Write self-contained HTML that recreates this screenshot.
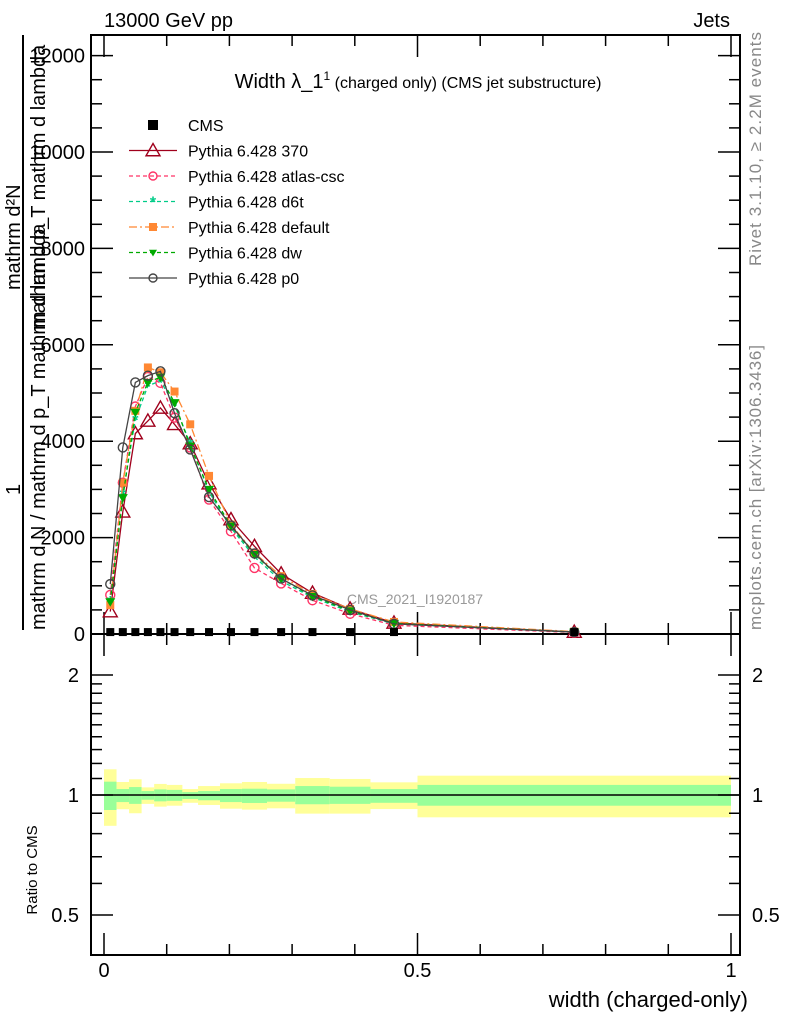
<!DOCTYPE html>
<html><head><meta charset="utf-8"><style>
body{margin:0;background:#fff}
svg{display:block;font-family:"Liberation Sans",sans-serif}
</style></head><body>
<svg id="c" width="786" height="1024" viewBox="0 0 786 1024">
<text x="104" y="27" font-size="20">13000 GeV pp</text>
<text x="730" y="27" font-size="20" text-anchor="end">Jets</text>
<text x="418" y="88" font-size="20" text-anchor="middle">Width λ_1<tspan font-size="12" dy="-8">1</tspan><tspan font-size="16" dy="8"> (charged only) (CMS jet substructure)</tspan></text>
<g font-size="20">
<text transform="translate(20,290) rotate(-90)">mathrm d²N</text>
<line x1="23" y1="35" x2="23" y2="630" stroke="#000" stroke-width="2"/>
<text transform="translate(45,330) rotate(-90)">mathrm d p_T mathrm d lambda</text>
<text transform="translate(20,495) rotate(-90)">1</text>
<text transform="translate(45,630) rotate(-90)">mathrm d N / mathrm d p_T mathrm d lambda</text>
</g>
<text transform="translate(761,266) rotate(-90)" font-size="17" fill="#888" textLength="234">Rivet 3.1.10, ≥ 2.2M events</text>
<text transform="translate(761,630) rotate(-90)" font-size="17" fill="#888" textLength="285">mcplots.cern.ch [arXiv:1306.3436]</text>
<text x="415" y="604" font-size="14" fill="#999" text-anchor="middle">CMS_2021_I1920187</text>
<text transform="translate(37,870) rotate(-90)" font-size="15" text-anchor="middle">Ratio to CMS</text>
<text x="748" y="1007" font-size="22" text-anchor="end">width (charged-only)</text>
<g id="g"></g>
</svg>
<script>
const binEdges=[0,0.02,0.04,0.06,0.08,0.1,0.125,0.15,0.185,0.22,0.26,0.305,0.36,0.425,0.5,1.0];
const cmsVals=[40,40,40,40,40,40,40,40,40,40,40,40,40,40,40];
const s370=[465,2535,4160,4420,4690,4350,3950,3120,2375,1820,1250,850,520,230,40];
const sAtlas=[810,3140,4720,5330,5210,4490,3870,2790,2130,1370,1050,700,420,180,30];
const sD6t=[680,2900,4450,5150,5250,4750,3950,2950,2200,1600,1100,760,460,210,40];
const sDefault=[600,3140,4630,5530,5430,5030,4350,3280,2270,1680,1200,830,520,250,50];
const sDw=[670,2830,4600,5220,5330,4800,3900,3000,2240,1650,1150,780,480,220,40];
const sP0=[1035,3870,5220,5360,5450,4580,3830,2840,2250,1670,1150,800,500,210,40];
const totUp=[1.16,1.078,1.095,1.045,1.066,1.06,1.035,1.053,1.07,1.078,1.067,1.103,1.097,1.076,1.118];
const totDn=[0.837,0.921,0.90,0.95,0.935,0.94,0.956,0.944,0.924,0.919,0.926,0.898,0.898,0.922,0.879];
const statUp=[1.08,1.035,1.047,1.023,1.033,1.03,1.017,1.023,1.035,1.037,1.033,1.053,1.049,1.035,1.06];
const statDn=[0.917,0.96,0.95,0.973,0.964,0.967,0.977,0.97,0.96,0.955,0.962,0.948,0.95,0.956,0.94];
const yTicks=[0,2000,4000,6000,8000,10000,12000];
const rTicks=[0.5,1,2];
const xTicks=[0,0.5,1];

const NS="http://www.w3.org/2000/svg";
const g=document.getElementById('g');
const L=91,R=740,T=35,MB=634,RB=955;
const X=v=>104+v*627;
const Y=v=>634-v*0.0482;
const RY=r=>795-Math.log(r)/Math.LN2*120;
function mk(t,a,p){const e=document.createElementNS(NS,t);for(const k in a)e.setAttribute(k,a[k]);(p||g).appendChild(e);return e;}
const mids=binEdges.slice(0,-1).map((e,i)=>(e+binEdges[i+1])/2);

for(let i=0;i<mids.length;i++){
  const x0=X(binEdges[i]),x1=X(binEdges[i+1]);
  let r=mk('rect',{x:x0,y:RY(totUp[i]),width:x1-x0,height:RY(totDn[i])-RY(totUp[i]),fill:'#ffff99'});
  
  
  r=mk('rect',{x:x0,y:RY(statUp[i]),width:x1-x0,height:RY(statDn[i])-RY(statUp[i]),fill:'#99ff99'});
  
  
}
mk('line',{x1:L,x2:R,y1:RY(1),y2:RY(1),stroke:'#000','stroke-width':1.5});

let f=mk('rect',{x:L,y:T,width:R-L,height:MB-T,fill:'none',stroke:'#000','stroke-width':2});


f=mk('rect',{x:L,y:MB,width:R-L,height:RB-MB,fill:'none',stroke:'#000','stroke-width':2});



for(let v=0;v<=12500;v+=500){const y=Y(v);if(y<T)break;const len=v%2000===0?22:11;
  mk('line',{x1:L,x2:L+len,y1:y,y2:y,stroke:'#000','stroke-width':1.5});
  mk('line',{x1:R,x2:R-len,y1:y,y2:y,stroke:'#000','stroke-width':1.5});}
yTicks.forEach(v=>{const t=mk('text',{x:L-6,y:Y(v)+7,'font-size':20,'text-anchor':'end'});t.textContent=v;
  
  });
[0.5,0.6,0.7,0.8,0.9,1,1.1,1.2,1.3,1.4,1.5,1.6,1.7,1.8,1.9,2].forEach(r=>{const y=RY(r);if(y<MB)return;const len=(r===0.5||r===1||r===2)?22:11;
  mk('line',{x1:L,x2:L+len,y1:y,y2:y,stroke:'#000','stroke-width':1.5});
  mk('line',{x1:R,x2:R-len,y1:y,y2:y,stroke:'#000','stroke-width':1.5});});
rTicks.forEach(r=>{let t=mk('text',{x:L-12,y:RY(r)+7,'font-size':20,'text-anchor':'end'});t.textContent=r;
  
  
  t=mk('text',{x:R+12,y:RY(r)+7,'font-size':20});t.textContent=r;
  
  });
for(let v=0;v<=1.0001;v+=0.1){const x=X(v);const len=Math.abs(v*2-Math.round(v*2))<1e-6?22:11;
  [[MB,-1],[MB,1],[RB,-1],[T,1]].forEach(([y0,d])=>mk('line',{x1:x,x2:x,y1:y0,y2:y0+d*len,stroke:'#000','stroke-width':1.5}));}
xTicks.forEach(v=>{const t=mk('text',{x:X(v),y:977,'font-size':20,'text-anchor':'middle'});t.textContent=v;
  
  });

function marker(type,x,y,c,sz){
  if(type==='tri')return mk('path',{d:`M${x},${y-sz} L${x+sz},${y+sz*0.75} L${x-sz},${y+sz*0.75}Z`,fill:'none',stroke:c,'stroke-width':1.4});
  if(type==='circ')return mk('circle',{cx:x,cy:y,r:sz,fill:'none',stroke:c,'stroke-width':1.4});
  if(type==='sq')return mk('rect',{x:x-sz,y:y-sz,width:2*sz,height:2*sz,fill:c});
  if(type==='dtri')return mk('path',{d:`M${x-sz},${y-sz*0.7} L${x+sz},${y-sz*0.7} L${x},${y+sz}Z`,fill:c});
  if(type==='star')return mk('text',{x:x,y:y+6,'font-size':16,'text-anchor':'middle',fill:c,'font-weight':'bold'});
}
const series=[
 {name:'series-370',vals:s370,c:'#a0001c',dash:'',m:'tri',sz:7},
 {name:'series-atlas-csc',vals:sAtlas,c:'#ff3366',dash:'4,3',m:'circ',sz:4.5},
 {name:'series-d6t',vals:sD6t,c:'#00cc88',dash:'4,3',m:'star',sz:4},
 {name:'series-default',vals:sDefault,c:'#ff8833',dash:'8,3,2,3',m:'sq',sz:4},
 {name:'series-dw',vals:sDw,c:'#00aa00',dash:'4,3',m:'dtri',sz:5},
 {name:'series-p0',vals:sP0,c:'#444444',dash:'',m:'circ',sz:4.5}
];
series.forEach(s=>{
  const pl=mk('polyline',{points:s.vals.map((v,i)=>X(mids[i])+','+Y(v)).join(' '),fill:'none',stroke:s.c,'stroke-width':1.3,'stroke-dasharray':s.dash});
  
  
  s.vals.forEach((v,i)=>{const e=marker(s.m,X(mids[i]),Y(v),s.c,s.sz);if(s.m==='star')e.textContent='*';
    
    });
});
cmsVals.forEach((v,i)=>{
  const r=mk('rect',{x:X(mids[i])-4,y:Y(v)-4,width:8,height:8,fill:'#000'});
  
  
});
const leg=[['CMS','#000','','sq'],['Pythia 6.428 370','#a0001c','','tri'],['Pythia 6.428 atlas-csc','#ff3366','4,3','circ'],['Pythia 6.428 d6t','#00cc88','4,3','star'],['Pythia 6.428 default','#ff8833','8,3,2,3','sq'],['Pythia 6.428 dw','#00aa00','4,3','dtri'],['Pythia 6.428 p0','#444444','','circ']];
leg.forEach((l,i)=>{const y=125+i*25.5;
  const lg=mk('g',{});
  
  
  if(i>0)mk('line',{x1:129,x2:177,y1:y,y2:y,stroke:l[1],'stroke-width':1.3,'stroke-dasharray':l[2]},lg);
  let m;
  if(l[3]==='star'){m=mk('text',{x:153,y:y+6,'font-size':16,'text-anchor':'middle',fill:l[1],'font-weight':'bold'},lg);m.textContent='*';}
  else{m=marker(l[3],153,y,l[1],i===0?5:(l[3]==='tri'?7:4));lg.appendChild(m);}
  const t=mk('text',{x:188,y:y+6,'font-size':16},lg);t.textContent=l[0];
});
</script>
</body></html>
